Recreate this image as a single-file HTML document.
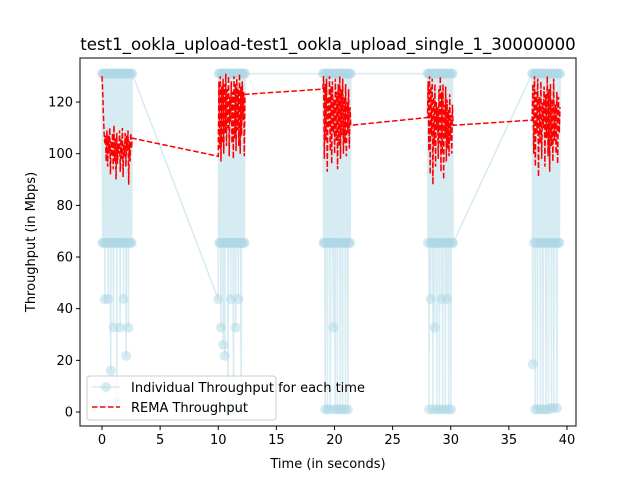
<!DOCTYPE html>
<html><head><meta charset="utf-8"><style>
body{margin:0;background:#fff}
svg text{font-family:"DejaVu Sans","Liberation Sans",sans-serif;fill:#000}
</style></head><body>
<svg id="c" width="640" height="480" xmlns="http://www.w3.org/2000/svg">
<rect width="640" height="480" fill="#fff"/>
<text x="328" y="50" font-size="16.6" text-anchor="middle">test1_ookla_upload-test1_ookla_upload_single_1_30000000</text>
<g id="plot"></g>
<rect x="80" y="58" width="496" height="368" fill="none" stroke="#000" stroke-width="1"/>
<g id="axes"></g>
<text x="328" y="468" font-size="13" text-anchor="middle">Time (in seconds)</text>
<text transform="translate(35,242) rotate(-90)" font-size="13" text-anchor="middle">Throughput (in Mbps)</text>
<g>
<rect x="87" y="376" width="189" height="44" rx="3" fill="#fff" fill-opacity="0.8" stroke="#ccc"/>
<g>
<line x1="92" y1="387" x2="120" y2="387" stroke="#add8e6" stroke-opacity="0.5" stroke-width="1.5"/>
<circle cx="106" cy="387" r="5" fill="#add8e6" fill-opacity="0.5"/>
<text x="131" y="392" font-size="13">Individual Throughput for each time</text></g>
<g>
<line x1="92" y1="407" x2="120" y2="407" stroke="#f00" stroke-width="1.5" stroke-dasharray="5.5,2.5"/>
<text x="131" y="412" font-size="13">REMA Throughput</text></g>
</g>
</svg>
<script>
const burstStart=[0,10,19,28,37];
const burstEnd=[2.6,12.3,21.4,30.2,39.4];
const blue1=[131,65.5,131,65.5,131,43.7,131,65.5,131,65.5,131,43.7,131,65.5,131,65.5,16,131,65.5,131,65.5,32.7,131,65.5,131,65.5,131,4,131,65.5,131,65.5,131,32.7,131,65.5,131,65.5,131,43.7,131,65.5,131,65.5,21.8,131,65.5,131,32.7,131,65.5,131,65.5,131,65.5,131];
const blue2=[43.7,131,65.5,131,65.5,32.7,131,65.5,131,26,131,65.5,21.8,131,65.5,131,65.5,131,1,131,65.5,131,65.5,43.7,131,65.5,131,65.5,1,131,65.5,131,32.7,131,65.5,131,65.5,43.7,131,65.5,131,65.5,1,131,65.5,131,65.5,131,65.5,131];
const blue3=[131,65.5,131,65.5,1,131,65.5,131,1,131,65.5,131,65.5,1,131,65.5,131,65.5,32.7,131,65.5,1,131,65.5,131,1,131,65.5,131,65.5,1,131,65.5,131,1,131,65.5,131,65.5,1,131,65.5,131,1,131,65.5,131,65.5,131];
const blue4=[131,65.5,131,1,131,65.5,43.7,131,65.5,131,1,131,65.5,32.7,131,65.5,131,1,131,65.5,131,65.5,1,131,65.5,131,43.7,131,1,131,65.5,131,65.5,1,131,65.5,43.7,131,65.5,1,131,65.5,131,1,131,65.5,131,65.5];
const blue5=[131,18.5,131,65.5,131,1,131,65.5,131,1,131,65.5,131,65.5,1,131,65.5,131,1,131,65.5,131,65.5,1,131,65.5,131,1,131,65.5,131,65.5,1.5,131,65.5,131,1.5,131,65.5,131,65.5,1.5,131,65.5,131,65.5,131];
const rema1=[130,124,115,108,104,107,97,109,95,107,100,110,92,105,99,108,94,111,97,106,90,108,96,104,100,109,93,106,98,110,91,104,99,108,95,107,101,109,88,105,97,108,102,106];
const rema2=[99,128,102,130,97,126,104,129,100,127,108,131,103,125,110,130,99,122,112,128,104,124,98,130,106,127,101,129,109,125,103,131,100,126,107,128,113,124,99,123];
const rema3=[125,130,98,127,105,129,93,122,110,130,101,126,96,128,108,121,100,129,105,124,94,127,103,130,98,125,107,129,100,122,104,127,99,120,108,125,102,118,111];
const rema4=[114,128,101,130,92,126,107,129,88,122,103,127,95,120,109,118,98,125,104,130,93,124,100,127,90,119,106,126,97,121,102,117,99,123,105,115,100,119,111];
const rema5=[113,127,100,130,95,124,108,129,91,122,104,128,98,120,110,126,95,123,106,130,99,125,93,127,103,121,97,129,105,119,100,124,96,122,108,118];
const xTicks=[0,5,10,15,20,25,30,35,40];
const yTicks=[0,20,40,60,80,100,120];
const blues=[blue1,blue2,blue3,blue4,blue5];
const remas=[rema1,rema2,rema3,rema4,rema5];
const NS='http://www.w3.org/2000/svg';
function X(t){return 102+t*11.625;}
function Y(v){return 412-v*2.583;}
function el(tag,attrs,parent){const e=document.createElementNS(NS,tag);for(const k in attrs)e.setAttribute(k,attrs[k]);parent.appendChild(e);return e;}
const plot=document.getElementById('plot'),axes=document.getElementById('axes');
function series(arrs){const pts=[];arrs.forEach((a,i)=>{const n=a.length;a.forEach((v,j)=>{pts.push([burstStart[i]+(burstEnd[i]-burstStart[i])*j/(n-1),v]);});});return pts;}
const bp=series(blues);
const bl=el('polyline',{points:bp.map(p=>X(p[0])+','+Y(p[1])).join(' '),fill:'none',stroke:'#add8e6','stroke-opacity':0.5,'stroke-width':1.5},plot);


bp.forEach(p=>{const c=el('circle',{cx:X(p[0]),cy:Y(p[1]),r:5,fill:'#add8e6','fill-opacity':0.5},plot);

});
const rp=series(remas);
const rl=el('polyline',{points:rp.map(p=>X(p[0])+','+Y(p[1])).join(' '),fill:'none',stroke:'#f00','stroke-width':1.5,'stroke-dasharray':'5.5,2.4'},plot);


xTicks.forEach(t=>{el('line',{x1:X(t),x2:X(t),y1:426,y2:430,stroke:'#000'},axes);
const tx=el('text',{x:X(t),y:444,'font-size':13,'text-anchor':'middle'},axes);tx.textContent=t;

});
yTicks.forEach(v=>{el('line',{x1:76,x2:80,y1:Y(v),y2:Y(v),stroke:'#000'},axes);
const tx=el('text',{x:73,y:Y(v)+4.5,'font-size':13,'text-anchor':'end'},axes);tx.textContent=v;

});
</script>
</body></html>
